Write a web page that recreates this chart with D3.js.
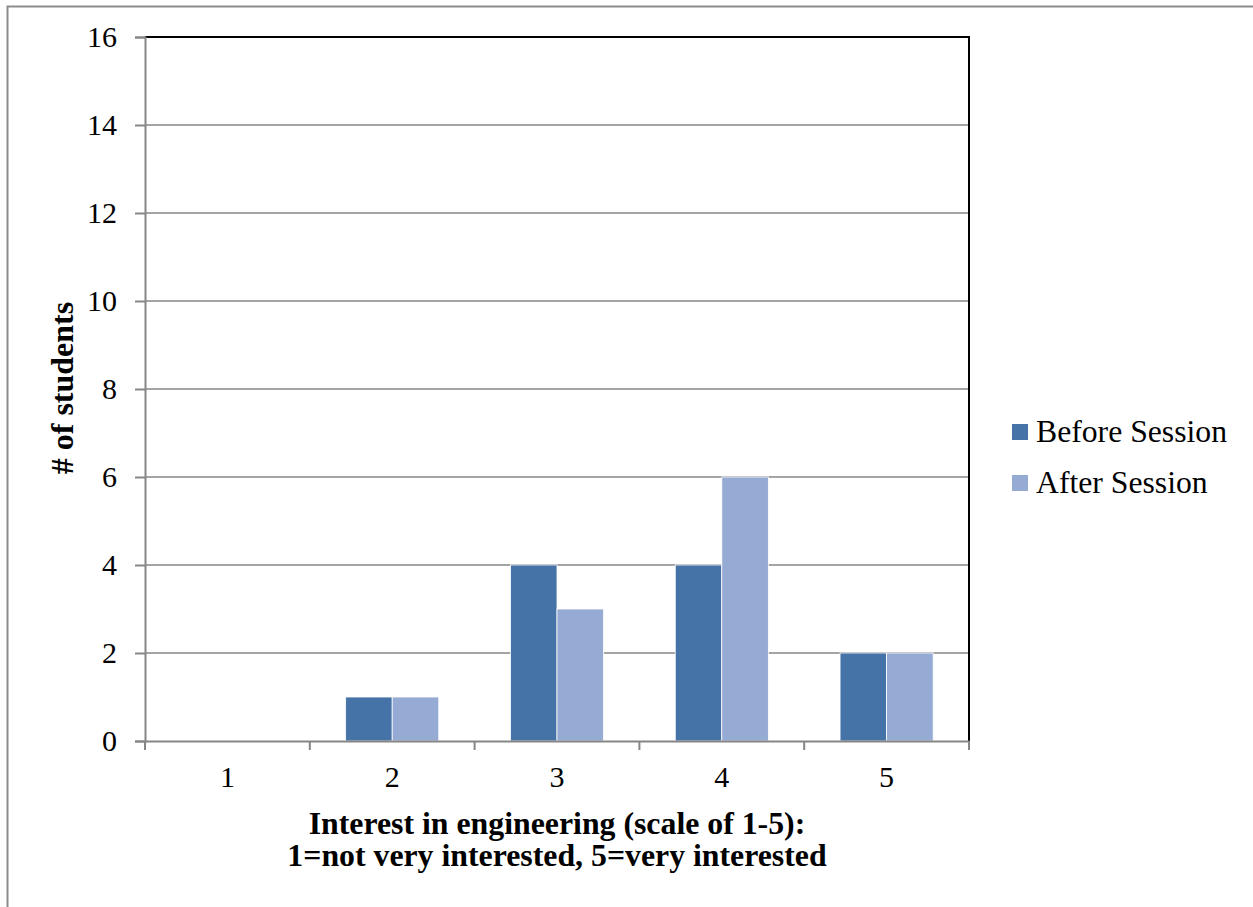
<!DOCTYPE html>
<html><head><meta charset="utf-8">
<script src="https://cdn.jsdelivr.net/npm/d3@7"></script>
<style>body{margin:0;background:#fff}svg{display:block}
text{font-family:"Liberation Serif","Times New Roman",serif !important;fill:#000}</style>
</head><body>
<svg id="c" width="1253" height="907"></svg>
<script>
const categories = ["1","2","3","4","5"];
const seriesNames = ["Before Session","After Session"];
const beforeValues = [0,1,4,4,2];
const afterValues = [0,1,3,6,2];
const yTicks = [0,2,4,6,8,10,12,14,16];
const colors = ["#4572A7","#95ABD3"];

const svg = d3.select("#c");
svg.append("rect").attr("x",7.5).attr("y",6.5).attr("width",1300).attr("height",1000)
  .attr("fill","none").attr("stroke","#8c8c8c").attr("stroke-width",2);

const m = {l:145,t:37,r:969,b:741};
const x = d3.scaleBand().domain(categories).range([m.l,m.r]);
const x1 = d3.scaleBand().domain(seriesNames).range([0,x.bandwidth()]).paddingOuter(0.77).paddingInner(0);
const y = d3.scaleLinear().domain([0,16]).range([m.b,m.t]);

// gridlines
svg.append("g").selectAll("line").data(yTicks.filter(d=>d>0&&d<16)).join("line")
  .attr("x1",m.l).attr("x2",m.r).attr("y1",d=>y(d)).attr("y2",d=>y(d))
  .attr("stroke","#868686").attr("stroke-width",1.5);

// bars
const data = categories.map((c,i)=>({c, vals:[beforeValues[i],afterValues[i]]}));
const g = svg.append("g").selectAll("g").data(data).join("g").attr("transform",d=>`translate(${x(d.c)},0)`);
g.selectAll("rect").data(d=>d.vals.map((v,j)=>({v,s:seriesNames[j],j}))).join("rect")
  .attr("x",d=>x1(d.s)).attr("width",x1.bandwidth())
  .attr("y",d=>y(d.v)).attr("height",d=>y(0)-y(d.v))
  .attr("fill",d=>colors[d.j]).attr("stroke","#fff").attr("stroke-width",0.8);

// top & right border
svg.append("path").attr("d",`M${m.l},${m.t}H${m.r}V${m.b}`).attr("fill","none").attr("stroke","#000").attr("stroke-width",2);

// y axis
const ya = svg.append("g").attr("transform",`translate(${m.l},0)`)
  .call(d3.axisLeft(y).tickValues(yTicks).tickSize(10).tickPadding(18).tickFormat(d3.format("d")));
ya.select(".domain").attr("stroke","#868686").attr("stroke-width",2);
ya.selectAll(".tick line").attr("stroke","#868686").attr("stroke-width",2);
ya.selectAll("text").attr("font-size",30);

// x axis
const xa = svg.append("g").attr("transform",`translate(0,${m.b})`)
  .call(d3.axisBottom(x).tickSize(0).tickPadding(25));
xa.select(".domain").attr("stroke","#868686").attr("stroke-width",2);
xa.selectAll("text").attr("font-size",30);
xa.selectAll(".bt").data(categories.concat(["end"])).join("line")
  .attr("x1",(d,i)=>m.l+i*x.bandwidth()).attr("x2",(d,i)=>m.l+i*x.bandwidth())
  .attr("y1",0).attr("y2",9).attr("stroke","#868686").attr("stroke-width",2);

// axis titles
svg.append("text").attr("x",557).attr("y",834).attr("text-anchor","middle")
  .attr("font-weight","bold").attr("font-size",31.8)
  .text("Interest in engineering (scale of 1-5):");
svg.append("text").attr("x",557).attr("y",866).attr("text-anchor","middle")
  .attr("font-weight","bold").attr("font-size",31.8)
  .text("1=not very interested, 5=very interested");
svg.append("text").attr("transform","translate(73,388) rotate(-90)").attr("text-anchor","middle")
  .attr("font-weight","bold").attr("font-size",32)
  .text("# of students");

// legend
const lg = svg.append("g").selectAll("g").data(seriesNames).join("g")
  .attr("transform",(d,i)=>`translate(1012,${424+i*51})`);
lg.append("rect").attr("width",16).attr("height",16).attr("fill",(d,i)=>colors[i]);
lg.append("text").attr("x",24).attr("y",18).attr("font-size",31.7).text(d=>d);
</script>
</body></html>
